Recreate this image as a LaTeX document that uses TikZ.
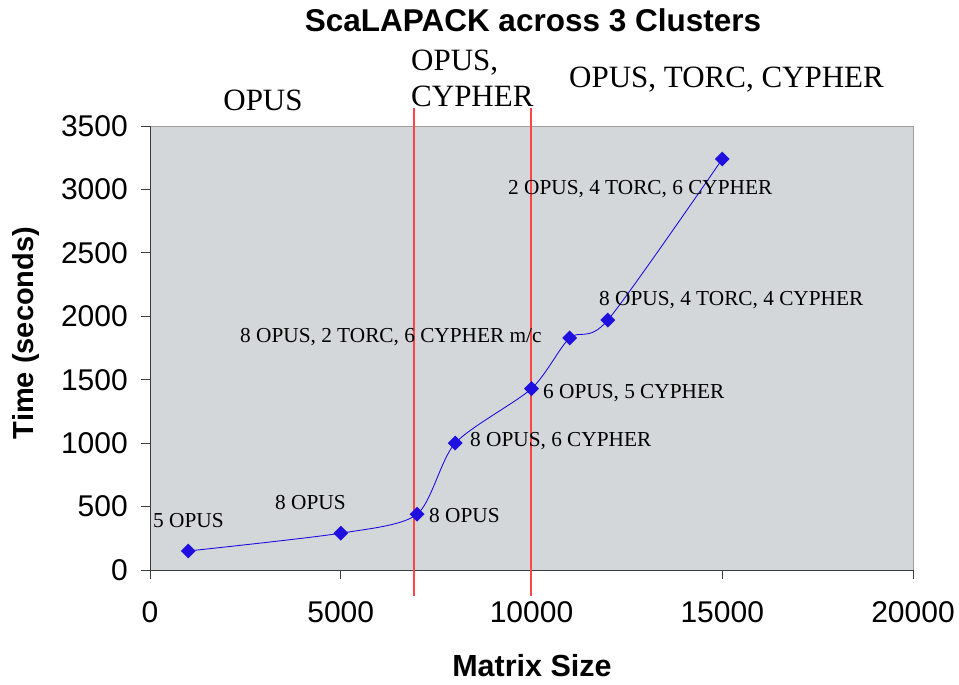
\documentclass[tikz,border=0pt]{standalone}
\usepackage{fontspec}
\setmainfont{Liberation Serif}
\setsansfont{Liberation Sans}
\usetikzlibrary{shapes.geometric}
\definecolor{ptblue}{RGB}{32,16,224}
\definecolor{plotbg}{RGB}{211,215,218}
\definecolor{redline}{RGB}{255,70,70}
\definecolor{frame}{RGB}{160,160,160}
\definecolor{axis}{RGB}{60,60,60}
\tikzset{
  diam/.style={diamond, fill=ptblue, draw=none, minimum size=15pt, inner sep=0pt},
  dlab/.style={font=\fontsize{21.3}{24}\selectfont, inner sep=0pt, anchor=west},
  toplab/.style={font=\fontsize{31}{38}\selectfont, inner sep=0pt},
  ticklab/.style={font=\sffamily\fontsize{30}{34}\selectfont, inner sep=0pt},
  axlab/.style={font=\sffamily\bfseries\fontsize{29}{34}\selectfont, inner sep=0pt},
  sep/.style={draw=redline, line width=1.1pt},
  tickmark/.style={draw=axis, line width=1pt}
}
\begin{document}
\begin{tikzpicture}[x=1pt,y=-1pt]
\useasboundingbox (0,0) rectangle (959,685);
% plot area
\fill[plotbg] (150,126) rectangle (913,570);
\draw[frame, line width=1pt] (150,126) -- (913,126) -- (913,570);
\draw[axis, line width=1pt] (150,126) -- (150,570) -- (913,570);
% y ticks and labels
\foreach \v [count=\i from 0] in {0,500,1000,1500,2000,2500,3000,3500}{
  \draw[tickmark] (141,{570-\i*63.4286}) -- (150,{570-\i*63.4286});
  \node[ticklab, anchor=east] (yl\i) at (128,{570-\i*63.4286}) {\v};
}
% x ticks and labels
\foreach \v [count=\i from 0] in {0,5000,10000,15000,20000}{
  \draw[tickmark] ({150+\i*190.75},570) -- ({150+\i*190.75},579);
  \node[ticklab] (xl\i) at ({150+\i*190.75},612) {\v};
}
% axis titles
\node[axlab] (title) at (533,20) {\fontsize{31.5}{34}\selectfont ScaLAPACK across 3 Clusters};
\node[axlab] (xtitle) at (532,666) {\fontsize{30.5}{34}\selectfont Matrix Size};
\node[axlab, rotate=90] (ytitle) at (26,333) {Time (seconds)};
% separators
\coordinate (s1t) at (414,108); \coordinate (s1b) at (414,596);
\coordinate (s2t) at (531,108); \coordinate (s2b) at (531,596);
\draw[sep] (s1t) -- (s1b);
\draw[sep] (s2t) -- (s2b);
% region labels
\node[toplab] (r1) at (263,100) {OPUS};
\node[toplab, anchor=north west, align=left, font=\fontsize{31}{36}\selectfont] (r2) at (411,50) {OPUS,\\CYPHER};
\node[toplab, anchor=west] (r3) at (569,80) {OPUS, TORC, CYPHER};
% data
\coordinate (c1) at (188.2,551.0);
\coordinate (c2) at (340.8,533.2);
\coordinate (c3) at (417.1,514.2);
\coordinate (c4) at (455.2,443.1);
\coordinate (c5) at (531.5,388.6);
\coordinate (c6) at (569.7,337.9);
\coordinate (c7) at (607.8,320.1);
\coordinate (c8) at (722.3,159.0);
\draw[ptblue, line width=0.9pt] plot[smooth, tension=0.45] coordinates {(c1) (c2) (c3) (c4) (c5) (c6) (c7) (c8)};
\foreach \c in {c1,c2,c3,c4,c5,c6,c7,c8}{ \node[diam] (d\c) at (\c) {}; }
% data labels
\node[dlab] (l1) at (153,521) {5 OPUS};
\node[dlab] (l2) at (275,503) {8 OPUS};
\node[dlab] (l3) at (429,516) {8 OPUS};
\node[dlab] (l4) at (470,441) {8 OPUS, 6 CYPHER};
\node[dlab] (l5) at (543,393) {6 OPUS, 5 CYPHER};
\node[dlab] (l6) at (240,337) {8 OPUS, 2 TORC, 6 CYPHER m/c};
\node[dlab] (l7) at (599,300) {8 OPUS, 4 TORC, 4 CYPHER};
\node[dlab] (l8) at (508,189) {2 OPUS, 4 TORC, 6 CYPHER};
\end{tikzpicture}
\end{document}
